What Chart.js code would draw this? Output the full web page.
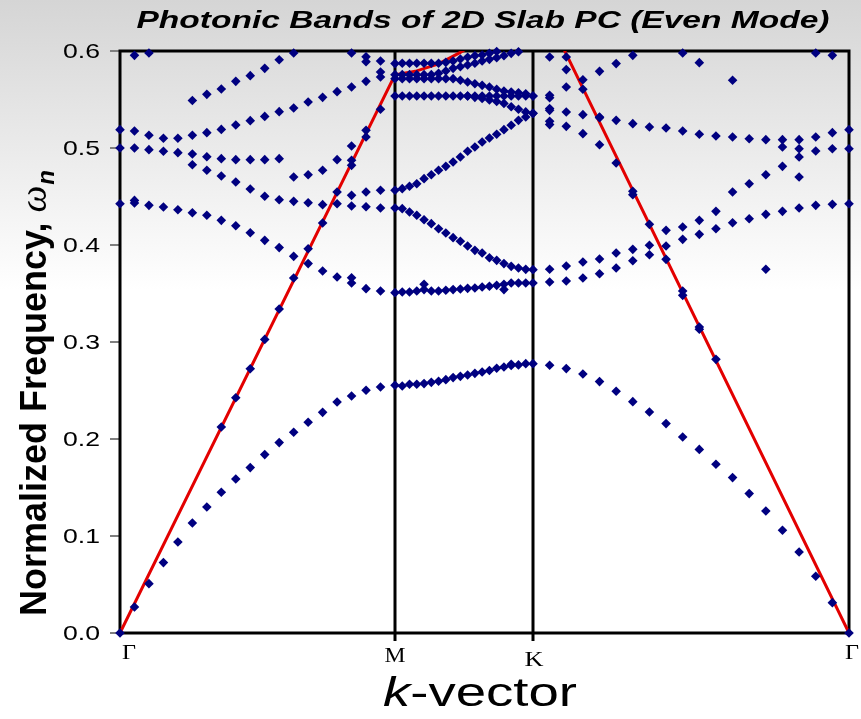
<!DOCTYPE html>
<html><head><meta charset="utf-8">
<script src="https://cdn.jsdelivr.net/npm/chart.js@4.4.1/dist/chart.umd.min.js"></script>
<style>html,body{margin:0;padding:0;background:#fff;}canvas{display:block;}</style>
</head><body>
<canvas id="c" width="861" height="719"></canvas>
<script>
const _ = null;
// k-path: high-symmetry points and their positions along the path
const kLabels = ['Γ', 'M', 'K', 'Γ'];
const kTicks = [0, 0.5774, 0.8672, 1.5307];
const stepsPerSegment = 19;
const yTicks = [0, 0.1, 0.2, 0.3, 0.4, 0.5, 0.6];

// Normalized frequency of each band (Γ→M: 20 pts, M→K: 19 pts, K→Γ: 19 pts)
const band1 = [0,.0268,.0509,.0726,.0938,.1134,.1299,.1451,.1588,.1705,.1839,.1963,.2069,.2172,.2275,.2381,.2443,.2502,.2536,.2554,
  .2546,.2564,.2564,.2571,.2584,.2595,.2612,.2633,.2646,.2660,.2677,.2691,.2706,.2729,.2743,.2771,.2764,.2777,.2777,
  .276,.2726,.267,.2592,.2492,.2385,.2278,.2159,.2021,.1893,.1739,.1602,.1437,.1258,.1059,.0835,.0585,.0313,0];
const band2 = [.4426,.4433,.4409,.4392,.4364,.4333,.4306,.4254,.4199,.4127,.4048,.3973,.3883,.3808,.3732,.367,.3663,.355,.3526,.3509,
  .3515,.3515,.3526,.354,.3526,.3526,.3533,.354,.3546,.3553,.3557,.3567,.3574,.3584,.3595,.3608,.3608,.3608,.3608,
  .3619,.3629,.366,.3704,.3763,.3838,.39,.399,.4058,.411,.4168,.423,.4271,.4316,.4347,.4381,.4409,.4419,.4426];
const band3 = [_,_,_,_,_,.4828,.477,.4711,.4649,.4577,.4502,.4467,.445,.4436,.4416,.4426,.4402,.4395,.4381,.4381,
  .4375,.434,.4306,.4261,.422,.4168,.4124,.4076,.4038,.399,.3945,.3918,.3869,.3842,.3808,.378,.3763,.3749,.3746,
  .375,.3784,.3825,.3856,.3918,.3955,.3997,.4151,.4186,.4254,.4347,.4546,.4632,.4725,.4811,.4907,.4969,.4993,.4993];
const band4 = [.5,.5,.4983,.4966,.4952,.4938,.491,.489,.488,.488,.488,.489,_,_,_,_,_,_,_,_,
  _,_,_,_,_,_,_,_,_,_,_,_,_,_,_,_,_,_,_,
  _,_,_,_,_,_,_,_,_,_,_,_,_,_,.501,.4993,_,_,_];
const band5 = [.5189,.5175,.5131,.51,.51,.5131,.5158,.5192,.5237,.5282,.5326,.5375,.5412,.5474,.5522,.5581,.5629,.5687,.5732,.5756,
  .5756,.5756,.5756,.5756,.5756,.577,.5794,.5821,.5838,.5856,.5873,.5897,.5914,.5931,.5952,.5976,.5993,_,_,
  .5406,.5371,.5344,.532,.5285,.5251,.5216,.5206,.5175,.5141,.5124,.5113,.5096,.5086,.5086,.5086,.5113,.5158,.5189];
const band6 = [_,_,_,_,_,_,_,_,_,_,_,_,.4701,.4725,.477,.488,.502,.5182,_,_,
  _,_,_,_,_,_,_,_,_,_,_,_,_,_,_,_,_,_,_,
  _,_,_,_,_,_,_,_,_,_,_,_,_,_,_,_,_,_,_];
const band7 = [_,_,_,_,_,_,_,_,_,_,_,_,_,_,_,_,.4512,.4546,.4564,.4564,
  .4581,.4605,.4632,.4684,.4725,.477,.4811,.4856,.4907,.4966,.501,.5062,.5103,.5141,.5189,.5234,.5285,.532,.5357,
  .5275,.5223,.5148,.5034,_,_,_,_,_,_,_,_,_,_,_,_,_,_,_];
const band8 = [_,_,_,_,_,_,_,_,_,_,_,_,_,_,_,_,_,_,_,.5536,
  .5536,.5536,.5536,.5536,.5536,.5536,.5536,.5536,.5536,.5536,.5536,.5536,.5536,.5536,.5536,.5536,.5536,.5536,.5536,
  .5543,.5629,.5704,.579,.587,.5955,_,_,_,_,_,_,_,_,_,_,_,_,_];
const band9 = [_,_,_,_,_,_,_,_,_,_,_,_,_,_,_,_,_,_,.5784,.5715,
  .5715,.5715,.5715,.5715,.5715,.5715,.5715,.5715,.5698,.568,.5663,.5646,.5629,.5605,.5588,.5577,.557,.556,.5536,
  .5519,_,_,_,_,_,_,_,_,_,_,_,_,_,_,_,_,_,_];
const band10 = [_,_,_,_,_,_,_,_,_,_,_,_,_,_,_,_,_,_,_,_,
  _,_,_,_,_,_,_,_,_,.5536,.5522,.551,.5495,.548,.546,.5425,.54,.5372,.5357,
  .5388,_,_,_,_,_,_,_,_,_,_,_,_,_,_,_,_,_,_];
const band11 = [_,_,_,_,_,_,_,_,_,_,_,_,_,_,_,_,.598,.594,.5897,.587,
  .5873,.5873,.5873,.5873,.5873,.5873,.5883,.5897,.5918,.5935,.5952,.5959,.5976,.5995,_,_,_,_,_,
  _,_,_,_,_,_,_,_,_,_,_,_,_,_,_,_,_,_,_];
const band12 = [_,.5955,.598,_,_,.549,.5553,.5608,.5687,.5746,.5821,.591,.598,_,_,_,_,_,_,_,
  _,_,_,_,_,_,_,_,_,_,_,_,_,_,_,_,_,_,_,
  .5938,.5808,_,_,_,_,_,_,.598,.588,_,.5698,_,_,_,_,.598,.5955,_];
const lightLineModes = [_,_,_,_,_,_,_,.2124,.2426,.2725,.3027,.334,.366,.3962,.4227,.4546,.4821,.5113,.5399,_,
  _,_,_,_,_,_,_,_,_,_,_,_,_,_,_,_,_,_,_,
  _,.5938,.5605,.5313,.4845,.4553,.4213,.3852,.3526,.3155,.2821,_,_,_,_,_,_,_,_];
const extraA = [_,.446,_,_,_,_,_,_,_,_,_,_,_,_,_,_,.4873,.589,_,_,
  _,_,_,.3595,_,_,_,_,_,_,_,_,_,_,.354,.2757,_,_,_,
  .5241,_,_,_,_,.4519,_,_,.3481,.3131,_,_,_,.375,_,.4701,_,_,_];
const extraB = [_,_,_,_,_,_,_,_,_,_,_,_,_,_,_,_,.3608,_,_,_,
  _,_,_,_,_,_,_,_,_,_,_,_,_,_,_,_,_,_,_,
  _,_,_,_,_,_,_,_,_,_,_,_,_,_,_,_,_,_,_];

// light line: path index and frequency
const lightLineIdx = [0, 19, 22, 25, 28, 31, 38, 57];
const lightLineFreq = [0, .5753, .5795, .5868, .5985, .6127, .667, 0];

// build k positions along path
const kPath = [];
for (let s = 0; s < 3; s++) {
  for (let i = (s === 0 ? 0 : 1); i <= stepsPerSegment; i++) {
    kPath.push(kTicks[s] + (kTicks[s + 1] - kTicks[s]) * i / stepsPerSegment);
  }
}
const toPts = arr => arr.map((f, i) => f === null ? null : { x: kPath[i], y: f }).filter(p => p);

const bands = [band1, band2, band3, band4, band5, band6, band7, band8, band9, band10, band11, band12, lightLineModes, extraA, extraB];
const NAVY = '#000080';
const datasets = bands.map(b => ({
  type: 'scatter', data: toPts(b), pointStyle: 'rectRot', pointRadius: 4.8,
  backgroundColor: NAVY, borderColor: NAVY, borderWidth: 0, clip: false
}));
datasets.push({
  type: 'line', data: lightLineIdx.map((k, i) => ({ x: kPath[k], y: lightLineFreq[i] })),
  borderColor: '#e30000', borderWidth: 3, pointRadius: 0, tension: 0, fill: false
});

function fitText(ctx, text, x, y, font, align, targetW) {
  ctx.save();
  ctx.font = font;
  const w = ctx.measureText(text).width;
  const sx = targetW ? targetW / w : 1;
  let x0 = x;
  if (align === 'center') x0 = x - w * sx / 2;
  else if (align === 'right') x0 = x - w * sx;
  ctx.translate(x0, y);
  ctx.scale(sx, 1);
  ctx.textAlign = 'left';
  ctx.fillText(text, 0, 0);
  ctx.restore();
}

const decor = {
  id: 'decor',
  beforeDraw(chart) {
    const ctx = chart.ctx;
    const g = ctx.createLinearGradient(0, 0, 0, 290);
    g.addColorStop(0, '#d5d5d5');
    g.addColorStop(1, '#ffffff');
    ctx.save();
    ctx.fillStyle = g;
    ctx.fillRect(0, 0, chart.width, chart.height);
    ctx.restore();
  },
  beforeDatasetsDraw(chart) {
    const ctx = chart.ctx, a = chart.chartArea, xs = chart.scales.x, ys = chart.scales.y;
    ctx.save();
    ctx.strokeStyle = '#7f7f7f'; ctx.lineWidth = 2;
    yTicks.forEach(v => {
      const y = Math.round(ys.getPixelForValue(v));
      ctx.beginPath(); ctx.moveTo(a.left - 10, y); ctx.lineTo(a.left, y); ctx.stroke();
    });
    ctx.strokeStyle = '#000'; ctx.lineWidth = 3;
    ctx.strokeRect(a.left, a.top, a.right - a.left, a.bottom - a.top);
    [1, 2].forEach(i => {
      const x = Math.round(xs.getPixelForValue(kTicks[i]));
      ctx.beginPath(); ctx.moveTo(x, a.top); ctx.lineTo(x, a.bottom + 8); ctx.stroke();
    });
    ctx.restore();
  },
  afterDraw(chart) {
    const ctx = chart.ctx, a = chart.chartArea, xs = chart.scales.x, ys = chart.scales.y;
    ctx.save();
    ctx.fillStyle = '#000';
    ctx.textBaseline = 'alphabetic';
    fitText(ctx, 'Photonic Bands of 2D Slab PC (Even Mode)', 483, 28, 'bold italic 24px "Liberation Sans"', 'center', 693);
    ctx.textBaseline = 'middle';
    yTicks.forEach(v => {
      fitText(ctx, v.toFixed(1), 100, ys.getPixelForValue(v) + 1, '21px "Liberation Sans"', 'right', 37);
    });
    ctx.textBaseline = 'alphabetic';
    const serif = '22px "Liberation Serif"';
    const xp = kTicks.map(k => xs.getPixelForValue(k));
    fitText(ctx, kLabels[0], xp[0] + 2, 659, serif, 'left', 14);
    fitText(ctx, kLabels[1], xp[1], 662, serif, 'center', 21);
    fitText(ctx, kLabels[2], xp[2] + 1, 666, serif, 'center', 19);
    fitText(ctx, kLabels[3], xp[3] - 4, 659, serif, 'left', 14);
    ctx.save();
    ctx.font = 'italic 40px "Liberation Sans"';
    const wk = ctx.measureText('k').width;
    ctx.font = '40px "Liberation Sans"';
    const wr = ctx.measureText('-vector').width;
    const sx = 194 / (wk + wr);
    ctx.translate(383, 706); ctx.scale(sx, 1);
    ctx.font = 'italic 40px "Liberation Sans"'; ctx.fillText('k', 0, 0);
    ctx.font = '40px "Liberation Sans"'; ctx.fillText('-vector', wk, 0);
    ctx.restore();
    ctx.save();
    ctx.translate(46, 616); ctx.rotate(-Math.PI / 2);
    ctx.font = 'bold 36px "Liberation Sans"';
    const main = 'Normalized Frequency, ';
    ctx.fillText(main, 0, 0);
    let wx = ctx.measureText(main).width;
    ctx.font = 'italic 38px "Liberation Serif"';
    ctx.fillText('ω', wx, 0);
    wx += ctx.measureText('ω').width;
    ctx.font = 'bold italic 24px "Liberation Sans"';
    ctx.fillText('n', wx + 1, 8);
    ctx.restore();
    ctx.restore();
  }
};

new Chart(document.getElementById('c'), {
  data: { datasets },
  options: {
    responsive: false, animation: false, devicePixelRatio: 1,
    layout: { padding: { top: 51, right: 12, left: 0, bottom: 0 } },
    plugins: { legend: { display: false }, tooltip: { enabled: false }, title: { display: false } },
    scales: {
      x: { type: 'linear', min: kTicks[0], max: kTicks[3], grid: { display: false }, border: { display: false },
           ticks: { display: false }, afterFit: s => { s.height = 86; } },
      y: { type: 'linear', min: 0, max: 0.6, grid: { display: false }, border: { display: false },
           ticks: { display: false, stepSize: 0.1 }, afterFit: s => { s.height = s.height; s.width = 120; } }
    }
  },
  plugins: [decor]
});
</script>
</body></html>
